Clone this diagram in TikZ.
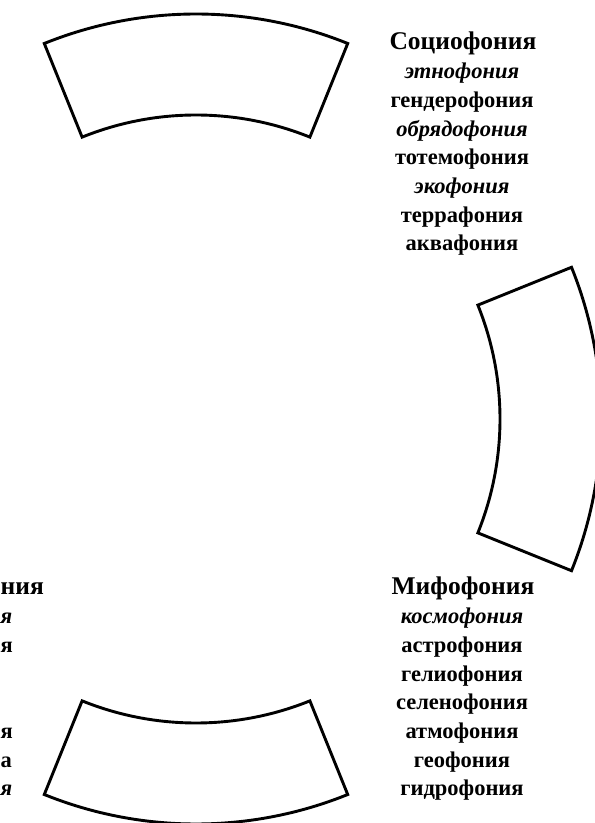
\documentclass[tikz,border=0pt]{standalone}
\usepackage{fontspec}
\setmainfont{Liberation Serif}
\begin{document}
\begin{tikzpicture}[x=1pt,y=1pt,
  sector/.style={draw=black, line width=2.9pt, line join=miter},
  head/.style={font=\fontsize{25.5}{30}\selectfont\bfseries, anchor=base, inner sep=0pt},
  item/.style={font=\fontsize{22.5}{27}\selectfont\bfseries, anchor=base, inner sep=0pt},
  itemi/.style={font=\fontsize{22.5}{27}\selectfont\bfseries\itshape, anchor=base, inner sep=0pt},
  frag/.style={anchor=base west, inner sep=0pt}]
\useasboundingbox (0,0) rectangle (595,823);
\fill[white] (0,0) rectangle (595,823);
\coordinate (C) at (196,404);
% ring sectors
\begin{scope}[shift={(C)}]
\draw[sector] (68:405) arc[start angle=68, end angle=112, radius=405]
  -- (112:304) arc[start angle=112, end angle=68, radius=304] -- cycle;
\draw[sector] (-22:405) arc[start angle=-22, end angle=22, radius=405]
  -- (22:304) arc[start angle=22, end angle=-22, radius=304] -- cycle;
\draw[sector] (248:405) arc[start angle=248, end angle=292, radius=405]
  -- (292:304) arc[start angle=292, end angle=248, radius=304] -- cycle;
\end{scope}
% top right column
\node[head]  (s1) at (463,773.0) {Социофония};
\node[itemi] (s2) at (462,744.3) {этнофония};
\node[item]  (s3) at (462,715.6) {гендерофония};
\node[itemi] (s4) at (462,686.9) {обрядофония};
\node[item]  (s5) at (462,658.2) {тотемофония};
\node[itemi] (s6) at (462,629.5) {экофония};
\node[item]  (s7) at (462,600.8) {террафония};
\node[item]  (s8) at (462,572.1) {аквафония};
% bottom right column
\node[head]  (m1) at (463,228.0) {Мифофония};
\node[itemi] (m2) at (462,199.3) {космофония};
\node[item]  (m3) at (462,170.6) {астрофония};
\node[item]  (m4) at (462,141.9) {гелиофония};
\node[item]  (m5) at (462,113.2) {селенофония};
\node[item]  (m6) at (462,84.5) {атмофония};
\node[item]  (m7) at (462,55.8) {геофония};
\node[item]  (m8) at (462,27.1) {гидрофония};
% bottom left column fragments (the rest lies beyond the left border)
\node[head, frag]  (l1) at (0.5,228.0) {ния};
\node[itemi, frag] (l2) at (0.5,199.3) {я};
\node[item, frag]  (l3) at (0.5,170.6) {я};
\node[item, frag]  (l6) at (0.5,84.5) {я};
\node[item, frag]  (l7) at (0.5,55.8) {а};
\node[itemi, frag] (l8) at (0.5,27.1) {я};
\end{tikzpicture}
\end{document}
